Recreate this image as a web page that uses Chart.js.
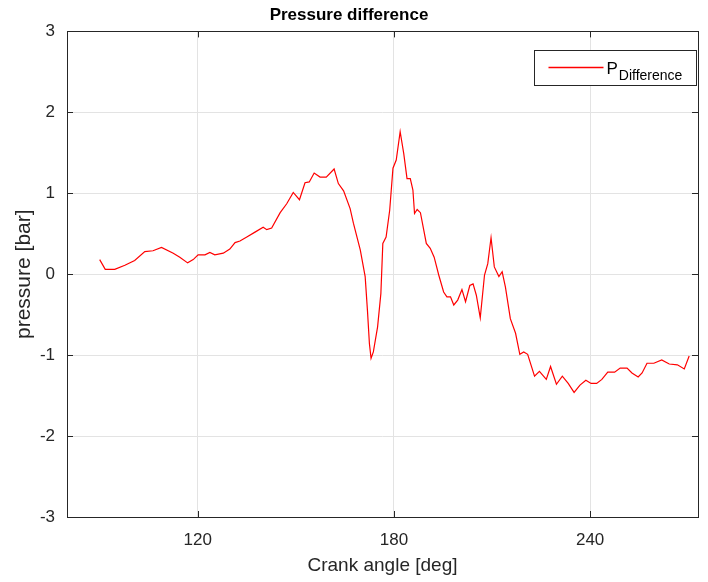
<!DOCTYPE html>
<html>
<head>
<meta charset="utf-8">
<script src="https://cdn.jsdelivr.net/npm/chart.js@4.4.0/dist/chart.umd.min.js"></script>
<style>
  html, body { margin: 0; padding: 0; background: #fff; }
  canvas { display: block; }
</style>
</head>
<body>
<canvas id="myChart" width="708" height="582"></canvas>
<script>
// DATA
const crankAngle = [
  90.0, 91.7, 94.6, 97.7, 100.7, 103.8, 106.3, 108.9, 112.5, 114.5,
  116.9, 118.6, 120.1, 122.2, 123.7, 125.2, 127.8, 129.8, 131.4, 132.9,
  135.0, 137.5, 140.0, 141.1, 142.6, 145.2, 147.2, 149.2, 151.1, 152.8,
  154.1, 155.6, 157.4, 159.3, 161.7, 163.0, 164.6, 166.6, 167.6, 169.7,
  171.2, 171.9, 172.5, 173.0, 173.7, 175.0, 176.0, 176.6, 177.6, 178.7,
  179.7, 180.7, 181.9, 183.0, 184.0, 185.0, 185.8, 186.3, 187.1, 188.1,
  189.9, 191.1, 192.3, 193.7, 195.2, 196.2, 197.3, 198.3, 199.5, 200.8,
  201.9, 203.2, 204.2, 205.2, 206.4, 207.7, 208.7, 209.7, 210.7, 212.1,
  213.1, 214.1, 215.6, 217.2, 218.5, 219.7, 220.9, 223.0, 224.5, 226.6,
  227.9, 229.7, 231.5, 233.3, 235.1, 236.9, 238.7, 240.3, 242.0, 243.6,
  245.4, 247.5, 249.2, 251.3, 252.8, 254.7, 255.9, 257.4, 259.5, 261.9,
  264.2, 266.7, 268.8, 270.3
];
const pDifference = [
  0.18, 0.06, 0.06, 0.11, 0.17, 0.28, 0.29, 0.33, 0.26, 0.21,
  0.14, 0.18, 0.24, 0.24, 0.27, 0.24, 0.26, 0.31, 0.39, 0.41,
  0.46, 0.52, 0.58, 0.55, 0.57, 0.76, 0.87, 1.01, 0.92, 1.13,
  1.14, 1.25, 1.20, 1.20, 1.30, 1.12, 1.03, 0.81, 0.63, 0.30,
  -0.03, -0.45, -0.86, -1.04, -0.96, -0.65, -0.24, 0.38, 0.46, 0.79,
  1.31, 1.41, 1.76, 1.49, 1.18, 1.18, 1.04, 0.75, 0.80, 0.76,
  0.38, 0.32, 0.21, -0.01, -0.22, -0.28, -0.28, -0.38, -0.32, -0.19,
  -0.34, -0.14, -0.12, -0.26, -0.54, -0.01, 0.13, 0.45, 0.09, -0.03,
  0.03, -0.16, -0.55, -0.73, -0.99, -0.96, -0.99, -1.26, -1.20, -1.30,
  -1.14, -1.36, -1.26, -1.35, -1.46, -1.37, -1.31, -1.35, -1.35, -1.30,
  -1.21, -1.21, -1.16, -1.16, -1.22, -1.27, -1.22, -1.10, -1.10, -1.06,
  -1.11, -1.12, -1.17, -1.01
];
const xTicks = [120, 180, 240];
const yTicks = [-3, -2, -1, 0, 1, 2, 3];

const axisColor = '#262626';
const gridColor = '#e3e3e3';
const lineColor = '#ff0000';
const font = 'Liberation Sans, Arial, Helvetica, sans-serif';

// box, inner ticks and legend like matlab
const boxPlugin = {
  id: 'box',
  afterDraw(chart) {
    const ctx = chart.ctx;
    const a = chart.chartArea;
    const xs = chart.scales.x, ys = chart.scales.y;
    ctx.save();
    ctx.strokeStyle = axisColor;
    ctx.lineWidth = 1;
    ctx.beginPath();
    xTicks.forEach(v => {
      const px = Math.round(xs.getPixelForValue(v)) + 0.5;
      ctx.moveTo(px, a.bottom); ctx.lineTo(px, a.bottom - 6);
      ctx.moveTo(px, a.top); ctx.lineTo(px, a.top + 6);
    });
    yTicks.forEach(v => {
      const py = Math.round(ys.getPixelForValue(v)) + 0.5;
      ctx.moveTo(a.left, py); ctx.lineTo(a.left + 6, py);
      ctx.moveTo(a.right, py); ctx.lineTo(a.right - 6, py);
    });
    ctx.stroke();
    ctx.strokeRect(Math.round(a.left) + 0.5, Math.round(a.top) + 0.5,
      Math.round(a.right - a.left), Math.round(a.bottom - a.top));

    // legend
    const bw = 162, bh = 35;
    const bx = Math.round(a.right - bw - 2) + 0.5, by = Math.round(a.top + 19) + 0.5;
    ctx.fillStyle = '#fff';
    ctx.fillRect(bx, by, bw, bh);
    ctx.strokeStyle = axisColor;
    ctx.strokeRect(bx, by, bw, bh);
    ctx.beginPath();
    ctx.strokeStyle = lineColor;
    ctx.lineWidth = 1.3;
    ctx.moveTo(bx + 14, by + 17);
    ctx.lineTo(bx + 69, by + 17);
    ctx.stroke();
    ctx.fillStyle = '#000';
    ctx.textBaseline = 'alphabetic';
    ctx.font = '17px ' + font;
    ctx.fillText('P', bx + 72, by + 23);
    const pw = ctx.measureText('P').width;
    ctx.font = '14px ' + font;
    ctx.fillText('Difference', bx + 72 + pw + 1, by + 29);
    ctx.restore();
  }
};

const config = {
  type: 'line',
  data: {
    datasets: [{
      label: 'P Difference',
      data: crankAngle.map((x, i) => ({ x: x, y: pDifference[i] })),
      borderColor: lineColor,
      borderWidth: 1.2,
      pointRadius: 0,
      tension: 0,
      fill: false
    }]
  },
  options: {
    responsive: false,
    animation: false,
    layout: { padding: { left: 0, right: 10, top: 0, bottom: 0 } },
    plugins: {
      legend: { display: false },
      tooltip: { enabled: false },
      title: {
        display: true,
        text: 'Pressure difference',
        color: '#000',
        font: { family: font, size: 17, weight: 'bold' },
        padding: { top: 5, bottom: 6 }
      }
    },
    scales: {
      x: {
        type: 'linear',
        min: 80,
        max: 273,
        afterBuildTicks(scale) { scale.ticks = xTicks.map(v => ({ value: v })); },
        afterFit(scale) { scale.height = 65; },
        grid: { color: gridColor, drawTicks: false },
        border: { display: false },
        ticks: { color: axisColor, padding: 13, font: { family: font, size: 17 }, maxRotation: 0 },
        title: {
          display: true,
          text: 'Crank angle [deg]',
          color: axisColor,
          font: { family: font, size: 19 },
          padding: { top: 5, bottom: 5 }
        }
      },
      y: {
        min: -3,
        max: 3,
        afterBuildTicks(scale) { scale.ticks = yTicks.map(v => ({ value: v })); },
        afterFit(scale) { scale.width = 67; },
        grid: { color: gridColor, drawTicks: false },
        border: { display: false },
        ticks: { color: axisColor, padding: 12, font: { family: font, size: 17 } },
        title: {
          display: true,
          text: 'pressure [bar]',
          color: axisColor,
          font: { family: font, size: 21 },
          padding: { top: 12, bottom: 12 }
        }
      }
    }
  },
  plugins: [boxPlugin]
};

let myChart = new Chart(document.getElementById('myChart'), config);
</script>
</body>
</html>
